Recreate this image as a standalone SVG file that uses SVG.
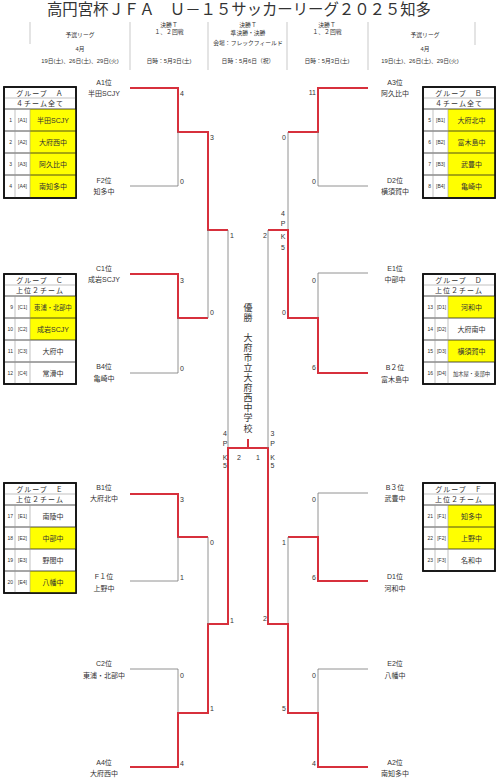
<svg xmlns="http://www.w3.org/2000/svg" width="498" height="780" viewBox="0 0 498 780">
<style>
text{font-family:"Liberation Sans","Noto Sans CJK JP",sans-serif;fill:#333}
.ti{font-size:15.4px}
.hd{font-size:5.8px;text-anchor:middle}
.hl{stroke:#bbb;stroke-width:0.8}
.lb{font-size:7px;text-anchor:middle}
.sc{font-size:7px}
.se{font-size:7px;text-anchor:end}
.sm{font-size:7px;text-anchor:middle}
.r{stroke:#d7303c;stroke-width:2;fill:none}
.g{stroke:#777;stroke-width:0.8;fill:none}
.box{fill:#fff;stroke:#111;stroke-width:1.6}
.cl{stroke:#222;stroke-width:0.8}
.cg{stroke:#999;stroke-width:0.6}
.y{fill:#ffff00}
.gh{font-size:7px;text-anchor:middle;letter-spacing:1px}
.no{font-size:5px;text-anchor:end}
.cd{font-size:5px;text-anchor:middle}
.nm{font-size:7px;text-anchor:middle}
.ch{font-size:9px;text-anchor:middle}
</style>
<rect width="498" height="780" fill="#fff"/>

<g id="header">
<text class="ti" x="47" y="15" textLength="384" lengthAdjust="spacing">高円宮杯ＪＦＡ　Ｕ－１５サッカーリーグ２０２５知多</text>
<line class="hl" x1="30" y1="22" x2="30" y2="44"/>
<line class="hl" x1="130" y1="22" x2="130" y2="70"/>
<line class="hl" x1="208" y1="22" x2="208" y2="70"/>
<line class="hl" x1="287" y1="22" x2="287" y2="70"/>
<line class="hl" x1="368" y1="22" x2="368" y2="70"/>
<line class="hl" x1="475" y1="22" x2="475" y2="45"/>
<text class="hd" x="80" y="37">予選リーグ</text>
<text class="hd" x="80" y="51">4月</text>
<text class="hd" x="80" y="63">19日(土)、26日(土)、29日(火)</text>
<text class="hd" x="169" y="27">決勝Ｔ</text>
<text class="hd" x="169" y="34">１、２回戦</text>
<text class="hd" x="169" y="63">日時：5月3日(土)</text>
<text class="hd" x="248" y="27">決勝Ｔ</text>
<text class="hd" x="248" y="35">準決勝・決勝</text>
<text class="hd" x="248" y="45">会場：フレックフィールド</text>
<text class="hd" x="248" y="63">日時：5月6日（祝）</text>
<text class="hd" x="327" y="27">決勝Ｔ</text>
<text class="hd" x="327" y="34">１、２回戦</text>
<text class="hd" x="327" y="63">日時：5月3日(土)</text>
<text class="hd" x="425" y="37">予選リーグ</text>
<text class="hd" x="425" y="51">4月</text>
<text class="hd" x="420" y="63">19日(土)、26日(土)、29日(火)</text>
</g>

<g id="groupA">
<rect class="box" x="4" y="87" width="72" height="111"/>
<rect class="y" x="30" y="109" width="46" height="88"/>
<line class="cg" x1="4" y1="98" x2="76" y2="98"/>
<line class="cl" x1="4" y1="109" x2="76" y2="109"/>
<line class="cl" x1="4" y1="131" x2="76" y2="131"/>
<line class="cl" x1="4" y1="153" x2="76" y2="153"/>
<line class="cl" x1="4" y1="175" x2="76" y2="175"/>
<line class="cg" x1="15" y1="109" x2="15" y2="198"/>
<line class="cg" x1="30" y1="109" x2="30" y2="198"/>
<rect class="box" x="4" y="87" width="72" height="111" fill="none" style="fill:none"/>
<text class="gh" x="40" y="95.5">グループ　Ａ</text>
<text class="gh" x="40" y="106">４チーム全て</text>
<text class="no" x="12" y="122">1</text><text class="cd" x="22.5" y="122">[A1]</text><text class="nm" x="53" y="122.5">半田SCJY</text>
<text class="no" x="12" y="144">2</text><text class="cd" x="22.5" y="144">[A2]</text><text class="nm" x="53" y="144.5">大府西中</text>
<text class="no" x="12" y="166">3</text><text class="cd" x="22.5" y="166">[A3]</text><text class="nm" x="53" y="166.5">阿久比中</text>
<text class="no" x="12" y="188">4</text><text class="cd" x="22.5" y="188">[A4]</text><text class="nm" x="53" y="188.5">南知多中</text>
</g>

<g id="groupB">
<rect class="box" x="423" y="87" width="72" height="111"/>
<rect class="y" x="448" y="109" width="47" height="88"/>
<line class="cg" x1="423" y1="98" x2="495" y2="98"/>
<line class="cl" x1="423" y1="109" x2="495" y2="109"/>
<line class="cl" x1="423" y1="131" x2="495" y2="131"/>
<line class="cl" x1="423" y1="153" x2="495" y2="153"/>
<line class="cl" x1="423" y1="175" x2="495" y2="175"/>
<line class="cg" x1="433" y1="109" x2="433" y2="198"/>
<line class="cg" x1="448" y1="109" x2="448" y2="198"/>
<rect class="box" x="423" y="87" width="72" height="111" style="fill:none"/>
<text class="gh" x="459" y="95.5">グループ　Ｂ</text>
<text class="gh" x="459" y="106">４チーム全て</text>
<text class="no" x="431" y="122">5</text><text class="cd" x="440.5" y="122">[B1]</text><text class="nm" x="471.5" y="122.5">大府北中</text>
<text class="no" x="431" y="144">6</text><text class="cd" x="440.5" y="144">[B2]</text><text class="nm" x="471.5" y="144.5">富木島中</text>
<text class="no" x="431" y="166">7</text><text class="cd" x="440.5" y="166">[B3]</text><text class="nm" x="471.5" y="166.5">武豊中</text>
<text class="no" x="431" y="188">8</text><text class="cd" x="440.5" y="188">[B4]</text><text class="nm" x="471.5" y="188.5">亀崎中</text>
</g>

<g id="groupC">
<rect class="box" x="4" y="274" width="72" height="110"/>
<rect class="y" x="30" y="296" width="46" height="44"/>
<line class="cg" x1="4" y1="285" x2="76" y2="285"/>
<line class="cl" x1="4" y1="296" x2="76" y2="296"/>
<line class="cl" x1="4" y1="318" x2="76" y2="318"/>
<line class="cl" x1="4" y1="340" x2="76" y2="340"/>
<line class="cl" x1="4" y1="362" x2="76" y2="362"/>
<line class="cg" x1="15" y1="296" x2="15" y2="384"/>
<line class="cg" x1="30" y1="296" x2="30" y2="384"/>
<rect class="box" x="4" y="274" width="72" height="110" style="fill:none"/>
<text class="gh" x="40" y="282.5">グループ　Ｃ</text>
<text class="gh" x="40" y="293">上位２チーム</text>
<text class="no" x="13" y="309">9</text><text class="cd" x="22.5" y="309">[C1]</text><text class="nm" x="53" y="309.5" style="font-size:6.3px">東浦・北部中</text>
<text class="no" x="13" y="331">10</text><text class="cd" x="22.5" y="331">[C2]</text><text class="nm" x="53" y="331.5">成岩SCJY</text>
<text class="no" x="13" y="353">11</text><text class="cd" x="22.5" y="353">[C3]</text><text class="nm" x="53" y="353.5">大府中</text>
<text class="no" x="13" y="375">12</text><text class="cd" x="22.5" y="375">[C4]</text><text class="nm" x="53" y="375.5">常滑中</text>
</g>

<g id="groupD">
<rect class="box" x="423" y="274" width="72" height="110"/>
<rect class="y" x="448" y="296" width="47" height="22"/>
<rect class="y" x="448" y="340" width="47" height="22"/>
<line class="cg" x1="423" y1="285" x2="495" y2="285"/>
<line class="cl" x1="423" y1="296" x2="495" y2="296"/>
<line class="cl" x1="423" y1="318" x2="495" y2="318"/>
<line class="cl" x1="423" y1="340" x2="495" y2="340"/>
<line class="cl" x1="423" y1="362" x2="495" y2="362"/>
<line class="cg" x1="435" y1="296" x2="435" y2="384"/>
<line class="cg" x1="448" y1="296" x2="448" y2="384"/>
<rect class="box" x="423" y="274" width="72" height="110" style="fill:none"/>
<text class="gh" x="459" y="282.5">グループ　Ｄ</text>
<text class="gh" x="459" y="293">上位２チーム</text>
<text class="no" x="433" y="309">13</text><text class="cd" x="441.5" y="309">[D1]</text><text class="nm" x="471.5" y="309.5">河和中</text>
<text class="no" x="433" y="331">14</text><text class="cd" x="441.5" y="331">[D2]</text><text class="nm" x="471.5" y="331.5">大府南中</text>
<text class="no" x="433" y="353">15</text><text class="cd" x="441.5" y="353">[D3]</text><text class="nm" x="471.5" y="353.5">横須賀中</text>
<text class="no" x="433" y="375">16</text><text class="cd" x="441.5" y="375">[D4]</text><text class="nm" x="471.5" y="375.5" style="font-size:5.3px">加木屋・東部中</text>
</g>

<g id="groupE">
<rect class="box" x="4" y="483" width="72" height="110"/>
<rect class="y" x="30" y="527" width="46" height="22"/>
<rect class="y" x="30" y="571" width="46" height="22"/>
<line class="cg" x1="4" y1="494" x2="76" y2="494"/>
<line class="cl" x1="4" y1="505" x2="76" y2="505"/>
<line class="cl" x1="4" y1="527" x2="76" y2="527"/>
<line class="cl" x1="4" y1="549" x2="76" y2="549"/>
<line class="cl" x1="4" y1="571" x2="76" y2="571"/>
<line class="cg" x1="15" y1="505" x2="15" y2="593"/>
<line class="cg" x1="30" y1="505" x2="30" y2="593"/>
<rect class="box" x="4" y="483" width="72" height="110" style="fill:none"/>
<text class="gh" x="40" y="491.5">グループ　Ｅ</text>
<text class="gh" x="40" y="502">上位２チーム</text>
<text class="no" x="13" y="518">17</text><text class="cd" x="22.5" y="518">[E1]</text><text class="nm" x="53" y="518.5">南陵中</text>
<text class="no" x="13" y="540">18</text><text class="cd" x="22.5" y="540">[E2]</text><text class="nm" x="53" y="540.5">中部中</text>
<text class="no" x="13" y="562">19</text><text class="cd" x="22.5" y="562">[E3]</text><text class="nm" x="53" y="562.5">野間中</text>
<text class="no" x="13" y="584">20</text><text class="cd" x="22.5" y="584">[E4]</text><text class="nm" x="53" y="584.5">八幡中</text>
</g>

<g id="groupF">
<rect class="box" x="423" y="483" width="72" height="88"/>
<rect class="y" x="448" y="505" width="47" height="44"/>
<line class="cg" x1="423" y1="494" x2="495" y2="494"/>
<line class="cl" x1="423" y1="505" x2="495" y2="505"/>
<line class="cl" x1="423" y1="527" x2="495" y2="527"/>
<line class="cl" x1="423" y1="549" x2="495" y2="549"/>
<line class="cg" x1="435" y1="505" x2="435" y2="571"/>
<line class="cg" x1="448" y1="505" x2="448" y2="571"/>
<rect class="box" x="423" y="483" width="72" height="88" style="fill:none"/>
<text class="gh" x="459" y="491.5">グループ　Ｆ</text>
<text class="gh" x="459" y="502">上位２チーム</text>
<text class="no" x="433" y="518">21</text><text class="cd" x="441.5" y="518">[F1]</text><text class="nm" x="471.5" y="518.5">知多中</text>
<text class="no" x="433" y="540">22</text><text class="cd" x="441.5" y="540">[F2]</text><text class="nm" x="471.5" y="540.5">上野中</text>
<text class="no" x="433" y="562">23</text><text class="cd" x="441.5" y="562">[F3]</text><text class="nm" x="471.5" y="562.5">名和中</text>
</g>

<g id="connectors">
<!-- left top -->
<polyline class="r" points="130,88 178,88 178,132 208,132 208,230 228,230"/>
<polyline class="g" points="130,186 178,186 178,132"/>
<polyline class="r" points="130,274 178,274 178,318 208,318"/>
<polyline class="g" points="130,373 178,373 178,318"/>
<line class="g" x1="208" y1="230" x2="208" y2="318"/>
<line class="g" x1="228" y1="230" x2="228" y2="448"/>
<!-- left bottom -->
<polyline class="r" points="130,494 178,494 178,537 208,537"/>
<polyline class="g" points="130,581 178,581 178,537"/>
<polyline class="g" points="130,669 178,669 178,713"/>
<polyline class="r" points="130,767 178,767 178,713 208,713 208,624 228,624 228,448"/>
<line class="g" x1="208" y1="537" x2="208" y2="624"/>
<!-- final -->
<line class="r" x1="227" y1="448" x2="269" y2="448"/>
<line class="r" x1="248" y1="439" x2="248" y2="448"/>
<!-- right top -->
<polyline class="r" points="368,88 318,88 318,132 288,132"/>
<polyline class="g" points="368,186 318,186 318,132"/>
<line class="g" x1="288" y1="132" x2="288" y2="230"/>
<polyline class="g" points="368,273 318,273 318,318"/>
<polyline class="r" points="368,373 318,373 318,318 288,318 288,230 268,230"/>
<line class="g" x1="268" y1="230" x2="268" y2="448"/>
<!-- right bottom -->
<polyline class="g" points="368,493 318,493 318,537"/>
<polyline class="r" points="368,581 318,581 318,537 288,537"/>
<line class="g" x1="288" y1="537" x2="288" y2="624"/>
<polyline class="g" points="368,669 318,669 318,713"/>
<polyline class="r" points="368,767 318,767 318,713 288,713 288,624 268,624 268,448"/>
</g>

<g id="labels-left">
<text class="lb" x="104" y="84.5">A1位</text><text class="lb" x="104" y="96">半田SCJY</text>
<text class="lb" x="104" y="182.5">F2位</text><text class="lb" x="104" y="194">知多中</text>
<text class="lb" x="104" y="270.5">C1位</text><text class="lb" x="104" y="282">成岩SCJY</text>
<text class="lb" x="104" y="368.5">B4位</text><text class="lb" x="104" y="380.5">亀崎中</text>
<text class="lb" x="104" y="489.5">B1位</text><text class="lb" x="104" y="501">大府北中</text>
<text class="lb" x="104" y="578.5">F１位</text><text class="lb" x="104" y="590.5">上野中</text>
<text class="lb" x="104" y="665.5">C2位</text><text class="lb" x="104" y="677.5">東浦・北部中</text>
<text class="lb" x="104" y="764.5">A4位</text><text class="lb" x="104" y="776">大府西中</text>
</g>

<g id="labels-right">
<text class="lb" x="395" y="84.5">A3位</text><text class="lb" x="395" y="96">阿久比中</text>
<text class="lb" x="395" y="182.5">D2位</text><text class="lb" x="395" y="194">横須賀中</text>
<text class="lb" x="395" y="270.5">E1位</text><text class="lb" x="395" y="282">中部中</text>
<text class="lb" x="395" y="369.5">B２位</text><text class="lb" x="395" y="381.5">富木島中</text>
<text class="lb" x="395" y="489.5">B３位</text><text class="lb" x="395" y="501">武豊中</text>
<text class="lb" x="395" y="578.5">D1位</text><text class="lb" x="395" y="590.5">河和中</text>
<text class="lb" x="395" y="665.5">E2位</text><text class="lb" x="395" y="677.5">八幡中</text>
<text class="lb" x="395" y="764.5">A2位</text><text class="lb" x="395" y="776">南知多中</text>
</g>

<g id="scores">
<text class="sc" x="180" y="95.5">4</text>
<text class="sc" x="180" y="183.5">0</text>
<text class="sc" x="180" y="282.5">3</text>
<text class="sc" x="180" y="370.5">0</text>
<text class="sc" x="180" y="501.5">3</text>
<text class="sc" x="180" y="579.5">1</text>
<text class="sc" x="180" y="677.5">0</text>
<text class="sc" x="180" y="765.5">4</text>
<text class="sc" x="210" y="139.5">3</text>
<text class="sc" x="210" y="314.5">0</text>
<text class="sc" x="210" y="544.5">0</text>
<text class="sc" x="210" y="710.5">1</text>
<text class="sc" x="230" y="238">1</text>
<text class="sc" x="230" y="622.5">1</text>
<text class="se" x="316" y="94.5">11</text>
<text class="se" x="316" y="183.5">0</text>
<text class="se" x="316" y="282.5">0</text>
<text class="se" x="316" y="369.5">6</text>
<text class="se" x="316" y="501.5">0</text>
<text class="se" x="316" y="579.5">6</text>
<text class="se" x="316" y="677.5">0</text>
<text class="se" x="316" y="765.5">4</text>
<text class="se" x="286" y="139.5">0</text>
<text class="se" x="286" y="314.5">0</text>
<text class="se" x="286" y="544.5">1</text>
<text class="se" x="286" y="710.5">5</text>
<text class="se" x="267" y="238">2</text>
<text class="se" x="267" y="620.5">2</text>
<text class="sm" x="283" y="216">4</text>
<text class="sm" x="283" y="226">P</text>
<text class="sm" x="283" y="239">K</text>
<text class="sm" x="283" y="249.5">5</text>
<text class="sm" x="225" y="435.5">4</text>
<text class="sm" x="225" y="445.5">P</text>
<text class="sm" x="225" y="459.5">K</text>
<text class="sm" x="225" y="468">5</text>
<text class="sm" x="272.5" y="435.5">3</text>
<text class="sm" x="272.5" y="445.5">P</text>
<text class="sm" x="272.5" y="459.5">K</text>
<text class="sm" x="272.5" y="468">5</text>
<text class="sm" x="239" y="459.5">2</text>
<text class="sm" x="258" y="459.5">1</text>
</g>

<g id="champion">
<text class="ch" x="248 248 248 248 248 248 248 248 248 248 248 248" y="310.5 320.5 340.5 350.5 360.5 370.5 380.5 390.5 401 411 421 432">優勝大府市立大府西中学校</text>
</g>
</svg>
